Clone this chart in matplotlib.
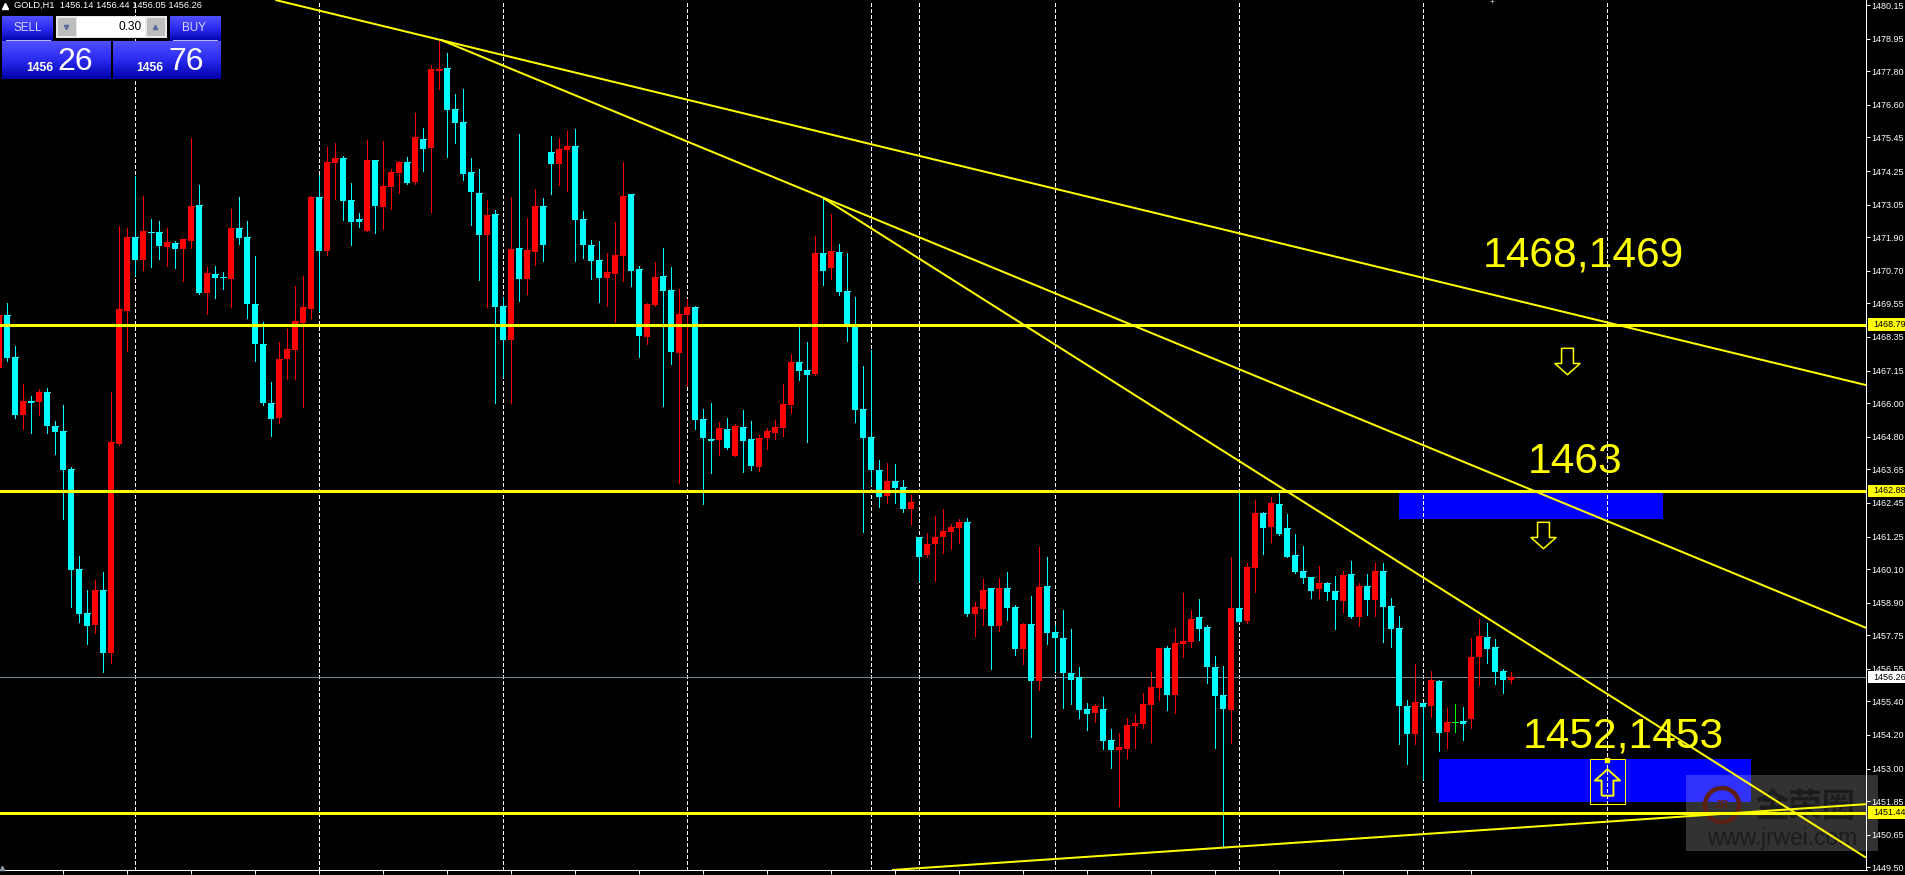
import numpy as np
import matplotlib
matplotlib.use("Agg")
import matplotlib.pyplot as plt
from matplotlib.patches import Rectangle, Circle
from matplotlib.transforms import blended_transform_factory

# GOLD H1 candles, one entry per bar
highs = [
    1469.19, 1469.55, 1468.03, 1466.68, 1466.25, 1466.49, 1466.54, 1465.36, 1465.93, 1463.73,
    1460.56, 1459.35, 1459.71, 1459.99, 1466.39, 1472.30, 1472.22, 1474.07, 1473.36, 1472.54,
    1472.47, 1472.22, 1471.76, 1471.83, 1475.42, 1473.75, 1470.84, 1470.87, 1470.66, 1472.90,
    1473.33, 1472.47, 1471.23, 1468.88, 1466.75, 1468.17, 1468.63, 1470.16, 1470.52, 1473.36,
    1474.11, 1475.10, 1475.25, 1474.78, 1473.82, 1472.76, 1475.35, 1474.64, 1475.32, 1474.32,
    1474.61, 1474.75, 1476.31, 1475.78, 1478.02, 1478.91, 1478.45, 1476.99, 1477.17, 1474.71,
    1474.32, 1473.22, 1472.86, 1469.77, 1473.33, 1475.57, 1472.58, 1473.61, 1473.29, 1475.50,
    1475.42, 1475.67, 1475.74, 1472.83, 1471.80, 1471.76, 1471.34, 1472.44, 1474.57, 1473.43,
    1470.87, 1469.56, 1471.02, 1471.51, 1470.84, 1470.06, 1469.70, 1469.45, 1465.79, 1466.00,
    1465.33, 1465.47, 1465.26, 1465.75, 1465.36, 1464.86, 1465.11, 1465.40, 1466.68, 1467.74,
    1468.70, 1468.17, 1471.94, 1473.29, 1472.72, 1471.66, 1471.34, 1469.77, 1467.32, 1467.89,
    1463.98, 1463.87, 1463.83, 1463.27, 1462.73, 1461.24, 1461.38, 1461.99, 1462.24, 1461.70,
    1461.88, 1461.91, 1458.93, 1459.75, 1459.42, 1459.78, 1459.99, 1458.82, 1458.18, 1459.14,
    1460.88, 1460.53, 1458.11, 1458.64, 1457.97, 1456.62, 1455.34, 1455.30, 1455.55, 1454.41,
    1454.27, 1454.80, 1454.95, 1455.69, 1456.44, 1457.29, 1457.37, 1458.00, 1459.25, 1458.64,
    1459.04, 1458.11, 1457.01, 1456.65, 1460.53, 1462.85, 1460.31, 1462.55, 1462.13, 1462.66,
    1462.84, 1462.06, 1461.35, 1460.92, 1459.82, 1460.21, 1459.64, 1459.85, 1460.03, 1460.39,
    1459.60, 1459.92, 1460.31, 1460.31, 1459.07, 1458.43, 1455.45, 1456.72, 1455.37, 1456.48,
    1456.16, 1455.16, 1455.30, 1455.20, 1457.65, 1458.32, 1458.18, 1457.61, 1456.55, 1456.44,
]
tops = [
    1469.13, 1469.13, 1467.64, 1466.07, 1466.07, 1466.39, 1466.39, 1465.19, 1465.01, 1463.66,
    1460.10, 1458.54, 1459.35, 1459.35, 1464.62, 1469.34, 1471.90, 1471.90, 1472.12, 1472.08,
    1472.08, 1471.73, 1471.69, 1471.83, 1473.01, 1473.04, 1470.62, 1470.59, 1470.48, 1472.22,
    1472.22, 1471.90, 1469.52, 1468.10, 1466.00, 1467.57, 1467.92, 1468.92, 1469.42, 1473.33,
    1473.33, 1474.57, 1474.71, 1474.71, 1473.22, 1472.54, 1474.64, 1474.64, 1473.72, 1474.22,
    1474.57, 1474.57, 1475.46, 1475.39, 1477.88, 1477.88, 1477.91, 1476.46, 1475.99, 1474.22,
    1473.47, 1472.69, 1472.72, 1469.45, 1471.48, 1471.51, 1471.44, 1473.01, 1473.01, 1474.93,
    1475.03, 1475.14, 1475.14, 1472.54, 1471.62, 1471.09, 1470.66, 1471.26, 1473.36, 1473.43,
    1470.77, 1469.52, 1470.48, 1470.52, 1470.02, 1469.17, 1469.42, 1469.42, 1465.43, 1464.72,
    1465.11, 1465.08, 1465.19, 1465.15, 1464.72, 1464.76, 1465.01, 1465.15, 1465.97, 1467.46,
    1467.46, 1467.18, 1471.34, 1471.34, 1471.41, 1471.37, 1469.98, 1468.77, 1465.79, 1464.80,
    1463.62, 1463.23, 1463.23, 1463.02, 1462.48, 1461.24, 1460.99, 1461.24, 1461.45, 1461.60,
    1461.77, 1461.77, 1458.75, 1459.35, 1459.42, 1459.42, 1459.42, 1458.75, 1458.15, 1458.15,
    1459.46, 1459.50, 1457.86, 1457.65, 1456.40, 1456.26, 1455.12, 1455.23, 1455.12, 1454.02,
    1453.77, 1454.56, 1454.63, 1455.30, 1455.91, 1457.29, 1457.29, 1457.47, 1457.54, 1458.32,
    1458.40, 1458.04, 1456.62, 1455.62, 1458.71, 1458.71, 1460.17, 1462.09, 1462.09, 1462.45,
    1462.41, 1461.56, 1460.60, 1460.03, 1459.82, 1459.60, 1459.60, 1459.32, 1459.89, 1459.92,
    1459.50, 1459.50, 1460.03, 1460.03, 1458.79, 1458.00, 1455.23, 1455.37, 1455.34, 1456.16,
    1456.12, 1454.66, 1454.66, 1454.70, 1456.97, 1457.72, 1457.69, 1457.33, 1456.47, 1456.26,
]
bottoms = [
    1467.26, 1467.59, 1465.58, 1465.58, 1466.00, 1466.04, 1465.19, 1464.97, 1463.62, 1460.07,
    1458.50, 1458.08, 1458.11, 1457.12, 1457.12, 1464.55, 1469.27, 1471.09, 1471.09, 1472.05,
    1471.58, 1471.55, 1471.48, 1471.48, 1471.76, 1469.91, 1469.91, 1470.45, 1470.46, 1470.41,
    1471.87, 1469.52, 1468.10, 1466.00, 1465.43, 1465.47, 1467.57, 1467.89, 1468.85, 1469.34,
    1471.41, 1471.41, 1474.54, 1473.18, 1472.44, 1472.44, 1472.12, 1473.01, 1472.97, 1473.68,
    1474.18, 1473.82, 1473.86, 1475.03, 1475.07, 1477.81, 1476.42, 1475.96, 1474.14, 1473.50,
    1471.98, 1471.98, 1469.42, 1468.24, 1468.24, 1470.41, 1470.41, 1471.37, 1471.62, 1474.50,
    1474.50, 1475.00, 1472.51, 1471.62, 1471.05, 1470.45, 1470.45, 1470.59, 1471.23, 1470.70,
    1468.39, 1468.35, 1469.49, 1469.98, 1467.82, 1467.78, 1469.13, 1465.40, 1464.76, 1464.65,
    1464.69, 1464.40, 1464.12, 1464.65, 1463.76, 1463.73, 1464.76, 1464.94, 1465.11, 1465.93,
    1467.14, 1467.00, 1467.03, 1470.70, 1470.80, 1469.95, 1468.81, 1465.75, 1464.76, 1463.62,
    1462.66, 1462.70, 1462.98, 1462.24, 1462.24, 1460.53, 1460.60, 1460.99, 1461.24, 1461.42,
    1461.56, 1458.50, 1458.50, 1458.68, 1458.08, 1458.08, 1458.71, 1457.26, 1457.26, 1456.12,
    1456.12, 1457.83, 1457.65, 1456.40, 1456.16, 1455.09, 1454.95, 1454.98, 1453.99, 1453.67,
    1453.67, 1453.70, 1454.52, 1454.59, 1455.27, 1455.87, 1455.62, 1455.62, 1457.44, 1457.51,
    1457.97, 1456.62, 1455.59, 1455.12, 1455.09, 1458.22, 1458.25, 1460.14, 1461.56, 1461.60,
    1461.35, 1460.53, 1459.99, 1459.78, 1459.32, 1459.39, 1459.28, 1459.00, 1458.96, 1458.40,
    1458.40, 1459.00, 1459.00, 1458.75, 1457.97, 1455.23, 1454.24, 1454.24, 1455.20, 1455.23,
    1454.27, 1454.31, 1454.66, 1454.59, 1454.77, 1456.97, 1457.26, 1456.44, 1456.16, 1456.14,
]
lows = [
    1467.24, 1467.50, 1465.47, 1465.08, 1464.94, 1465.58, 1464.94, 1464.19, 1461.88, 1458.75,
    1458.22, 1457.44, 1457.83, 1456.44, 1456.76, 1464.51, 1467.85, 1470.55, 1470.73, 1470.84,
    1471.12, 1470.87, 1470.80, 1470.34, 1471.51, 1469.88, 1469.17, 1469.74, 1470.06, 1469.42,
    1471.66, 1469.02, 1467.50, 1465.93, 1464.83, 1465.29, 1466.86, 1466.86, 1465.86, 1469.02,
    1469.27, 1471.26, 1473.26, 1472.51, 1471.62, 1472.26, 1472.12, 1472.05, 1472.19, 1472.90,
    1473.47, 1473.79, 1473.79, 1474.25, 1472.79, 1477.17, 1474.75, 1475.25, 1473.93, 1472.33,
    1470.38, 1469.42, 1466.00, 1466.93, 1466.00, 1469.63, 1469.88, 1470.91, 1471.05, 1473.43,
    1473.75, 1473.54, 1471.05, 1471.16, 1470.41, 1469.59, 1469.45, 1468.88, 1470.34, 1470.16,
    1467.64, 1468.10, 1469.45, 1465.90, 1467.39, 1463.16, 1466.61, 1465.08, 1462.41, 1463.51,
    1464.15, 1464.37, 1464.12, 1463.55, 1463.62, 1463.59, 1464.37, 1464.72, 1464.83, 1465.65,
    1466.82, 1464.62, 1467.00, 1470.20, 1470.41, 1469.84, 1468.21, 1465.33, 1461.42, 1463.09,
    1462.31, 1462.45, 1462.45, 1462.13, 1461.70, 1459.68, 1460.53, 1459.68, 1460.67, 1460.81,
    1461.03, 1458.43, 1457.72, 1458.11, 1456.55, 1457.90, 1458.29, 1457.04, 1456.72, 1454.13,
    1455.80, 1457.44, 1456.48, 1455.16, 1455.30, 1454.80, 1454.38, 1454.66, 1453.70, 1453.03,
    1451.68, 1453.38, 1453.74, 1454.45, 1453.95, 1455.45, 1455.09, 1454.98, 1456.97, 1457.33,
    1457.58, 1456.05, 1453.74, 1450.22, 1453.92, 1458.22, 1458.18, 1459.28, 1460.64, 1461.06,
    1461.31, 1460.53, 1459.96, 1459.60, 1459.07, 1459.07, 1459.00, 1457.97, 1458.57, 1458.36,
    1458.08, 1458.47, 1458.43, 1457.51, 1457.33, 1453.88, 1453.17, 1453.88, 1452.64, 1454.84,
    1453.63, 1453.74, 1454.31, 1454.02, 1454.45, 1455.98, 1456.76, 1456.01, 1455.69, 1456.05,
]
# R up, C down, N doji
kinds = ("RCCRCRCCCC" "CCRCRRRCRC" "CRCRRCRCCR" "CCCCCRRRRR" "CRRCCCRCRR"
         "RCRCRRCCCC" "CRCCRCRRCC" "RRCCCCRRRC" "CRRCCRRCCC" "RCRCCRRRRR"
         "CCRCRCCCCC" "CRCCRCRRRR" "RCRRCRCCRC" "RCCCCCCRCC" "RRRRRRCRRR"
         "CCCCRCRRCR" "CCCCCRCCRC" "RCRCCCCRCR" "CRNCRRCCCR")

price_ticks = [1480.15, 1478.95, 1477.80, 1476.60, 1475.45, 1474.25, 1473.05, 1471.90, 1470.70,
               1469.55, 1468.35, 1467.15, 1466.00, 1464.80, 1463.65, 1462.45, 1461.25, 1460.10,
               1458.90, 1457.75, 1456.55, 1455.40, 1454.20, 1453.00, 1451.85, 1450.65, 1449.50]
period_bars = [17, 40, 63, 86, 109, 115, 132, 155, 178, 201]
level_prices = [1468.79, 1462.88, 1451.44]
bid_price = 1456.26

# trend lines as (bar, price) end points
trend_a = ([34.56, 233.375], [1480.33, 1466.64])
trend_b = ([55.25, 233.375], [1478.91, 1458.01])
trend_c = ([103.1, 233.375], [1473.28, 1449.84])
trend_d = ([111.63, 233.375], [1449.40, 1451.74])

# blue zones: first bar, last bar, low, high
zone_upper = (175, 208, 1461.89, 1462.84)
zone_lower = (180, 219, 1451.82, 1453.35)

notes = [("1468,1469", 185.5, 1470.84), ("1463", 191.15, 1463.50), ("1452,1453", 190.5, 1453.75)]
down_arrows = [(196.0, 1467.49), (193.0, 1461.31)]
up_arrow = (201.0, 1452.53)

YELLOW = "#ffff00"
CYAN = "#00ffff"
RED = "#ff0000"
PX = 0.72

plt.rcParams["font.family"] = ["Liberation Sans", "DejaVu Sans"]

W, H = 1906, 875
fig = plt.figure(figsize=(W / 100, H / 100), dpi=100, facecolor="black")
ax = fig.add_axes([0, 5 / H, 1866.5 / W, 870 / H], facecolor="black")
ax.set_xlim(0.125, 233.44)
ax.set_ylim(1449.40, 1480.33)

x = np.arange(len(highs))
tops_arr, bottoms_arr = np.array(tops), np.array(bottoms)
colors = [{"R": RED, "C": CYAN, "N": "#00ff00"}[k] for k in kinds]

for zone in (zone_upper, zone_lower):
    ax.add_patch(Rectangle((zone[0], zone[2]), zone[1] - zone[0], zone[3] - zone[2],
                           facecolor="#0000ff", edgecolor="none", zorder=0.5))
for bar in period_bars:
    ax.axvline(bar, color="white", lw=PX, ls=(0, (4, 2.5)), zorder=1, antialiased=False)
ax.axhline(bid_price, color="#778899", lw=PX, zorder=1)

ax.vlines(x, lows, highs, colors=colors, lw=PX, zorder=2, antialiased=False)
ax.bar(x, tops_arr - bottoms_arr, bottom=bottoms_arr, width=0.7, color=colors, linewidth=0,
       zorder=2.1, antialiased=False)
ax.hlines(tops, x - 0.33, x + 0.33, colors=colors, lw=PX, zorder=2.1, antialiased=False)

for price in level_prices:
    ax.axhline(price, color=YELLOW, lw=3 * PX, zorder=3)
for line in (trend_a, trend_b, trend_c, trend_d):
    ax.plot(line[0], line[1], color=YELLOW, lw=2 * PX, zorder=3, solid_capstyle="butt")

for label, bar, price in notes:
    ax.text(bar, price, label, color=YELLOW, fontsize=30.6, ha="left", va="baseline", zorder=4)

arrow_down = [(-0.45, 1), (0.45, 1), (0.45, -0.15), (0.95, -0.15), (0, -1), (-0.95, -0.15), (-0.45, -0.15), (-0.45, 1)]
arrow_up = [(vx, -vy) for vx, vy in arrow_down]
for bar, price in down_arrows:
    ax.plot([bar], [price], marker=arrow_down, ms=19, mfc="none", mec=YELLOW, mew=1.1, zorder=4)
ax.plot([up_arrow[0]], [up_arrow[1]], marker=arrow_up, ms=19, mfc="none", mec=YELLOW, mew=1.4, zorder=1.8)
ax.add_patch(Rectangle((198.9, 1451.76), 4.3, 1.6, facecolor="none", edgecolor=YELLOW, lw=PX, zorder=4))
ax.plot([201], [1453.3], marker="s", ms=3.2, color=YELLOW, zorder=4)

# axes
for side in ("top", "left"):
    ax.spines[side].set_visible(False)
for side in ("right", "bottom"):
    ax.spines[side].set_color("white")
    ax.spines[side].set_linewidth(PX)
ax.yaxis.tick_right()
ax.set_yticks(price_ticks)
ax.set_yticklabels([f"{p:.2f}" for p in price_ticks], fontsize=6.5, color="white")
ax.tick_params(axis="y", length=2.6, width=PX, color="white", pad=1)
ax.set_xticks(np.arange(8, 185, 8))
ax.set_xticklabels([])
ax.tick_params(axis="x", length=2.6, width=PX, color="white")

# screen furniture in pixel space
ui = fig.add_axes([0, 0, 1, 1], facecolor="none")
ui.set_xlim(0, W)
ui.set_ylim(H, 0)
ui.axis("off")

# price tags on the scale
tag_tr = blended_transform_factory(ax.transAxes, ax.transData)
for price, face in [(level_prices[0], YELLOW), (level_prices[1], YELLOW), (level_prices[2], YELLOW), (bid_price, "white")]:
    ax.add_patch(Rectangle((1.0008, price - 0.22), 0.0215, 0.44, transform=tag_tr, clip_on=False,
                           facecolor=face, edgecolor="none", zorder=5))
    ax.text(1.0036, price, f"{price:.2f}", transform=tag_tr, clip_on=False, fontsize=6.5,
            color="black", ha="left", va="center", zorder=6)

# watermark sits under the drawn lines
ax.add_patch(Rectangle((1686, 775), 192, 76, transform=ui.transData, clip_on=False, facecolor="white",
                       edgecolor="none", alpha=0.2, zorder=2.6))
ax.add_patch(Circle((1722, 805), 17, transform=ui.transData, clip_on=False, facecolor="none",
                    edgecolor="#5a2015", lw=3.2, zorder=2.7))
ax.text(1722, 805, "JR", transform=ui.transData, clip_on=False, color="#5a2015", fontsize=8, weight="bold",
        ha="center", va="center", zorder=2.7)
ax.text(1805, 807, "金荣圈", transform=ui.transData, clip_on=False, color="#1c1c1c", fontsize=24, weight="bold",
        ha="center", va="center", family=["Noto Sans CJK SC", "DejaVu Sans"], zorder=2.7)
ax.text(1782, 838, "www.jrwei.com", transform=ui.transData, clip_on=False, color="#1c1c1c", fontsize=16.4,
        ha="center", va="center", zorder=2.7)

ui.plot([5], [5.5], marker="^", ms=4, color="white")
ui.text(14.5, 5, "GOLD,H1  1456.14 1456.44 1456.05 1456.26", color="white", fontsize=6.65, va="center", ha="left")
ui.plot([2], [868], marker="^", ms=3, color="#8a98a8")
ui.plot([1492], [1], marker="+", ms=3, mew=PX, color="#8a98a8")

gradient = np.linspace(0, 1, 64).reshape(-1, 1)
cmap = matplotlib.colors.LinearSegmentedColormap.from_list("btn", ["#5050ff", "#2a2af0", "#0000a8"])
for x0, x1, y0, y1 in [(2, 53, 16, 42), (170, 221, 16, 42), (2, 110.5, 41, 79), (113, 221, 41, 79)]:
    ui.imshow(gradient, extent=(x0, x1, y1, y0), cmap=cmap, aspect="auto", zorder=2)
ui.set_xlim(0, W)
ui.set_ylim(H, 0)
ui.plot([6, 50], [40, 40], color="#b8b8ff", lw=PX, zorder=3)
ui.plot([173, 217], [40, 40], color="#b8b8ff", lw=PX, zorder=3)

ui.add_patch(Rectangle((56, 16), 111, 22, facecolor="#e8e8e8", edgecolor="none", zorder=2))
ui.add_patch(Rectangle((77.5, 17), 68, 20, facecolor="white", edgecolor="none", zorder=3))
for sx in (58, 147):
    ui.add_patch(Rectangle((sx, 18), 18, 18, facecolor="#bdbdbd", edgecolor="none", zorder=3))
ui.plot([66.5], [26.5], marker="v", ms=3, color="#5a6a9a", zorder=4)
ui.plot([155.5], [26.5], marker="^", ms=3, color="#5a6a9a", zorder=4)
ui.text(142, 27, "0.30", color="black", fontsize=8.6, ha="right", va="center", zorder=4)
ui.text(27.5, 28, "SELL", color="#d8d8ff", fontsize=8.4, ha="center", va="center", zorder=4)
ui.text(194, 28, "BUY", color="#d8d8ff", fontsize=8.4, ha="center", va="center", zorder=4)
ui.text(26, 71, "1456", color="white", fontsize=8.7, weight="bold", ha="left", va="baseline", zorder=4)
ui.text(57, 70.5, "26", color="white", fontsize=23, ha="left", va="baseline", zorder=4)
ui.text(136, 71, "1456", color="white", fontsize=8.7, weight="bold", ha="left", va="baseline", zorder=4)
ui.text(168, 70.5, "76", color="white", fontsize=23, ha="left", va="baseline", zorder=4)

fig.savefig("out.png", dpi=100, facecolor="black")
